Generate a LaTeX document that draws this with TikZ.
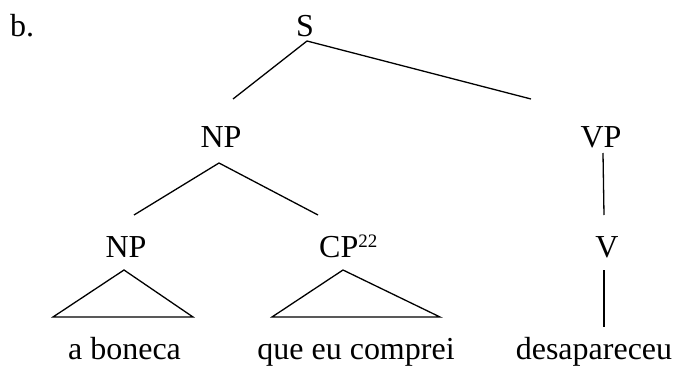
\documentclass[tikz,border=0pt]{standalone}
\usepackage{fontspec}
\setmainfont{Liberation Serif}
\begin{document}
\begin{tikzpicture}[x=1pt,y=-1pt,
  lbl/.style={inner sep=0pt,anchor=base,font=\fontsize{32}{37}\selectfont},
  edge/.style={line width=1.3pt}]
\useasboundingbox (0,0) rectangle (673,372);
% labels
\node[lbl,anchor=base west] (b) at (10,36) {b.};
\node[lbl] (S) at (305,36) {S};
\node[lbl] (NP) at (221,147) {NP};
\node[lbl] (VP) at (601,147) {VP};
\node[lbl] (NPl) at (126,257) {NP};
\node[lbl,anchor=base west] (CP) at (319,257) {CP\raisebox{10pt}{\fontsize{19}{22}\selectfont 22}};
\node[lbl] (V) at (607,257) {V};
\node[lbl] (w1) at (124.5,359) {a boneca};
\node[lbl] (w2) at (356,359) {que eu comprei};
\node[lbl] (w3) at (594,359) {desapareceu};
% connector ends
\coordinate (sS) at (307,41);
\coordinate (tNP) at (233,99);
\coordinate (tVP) at (531,99);
\coordinate (sNP) at (219,163);
\coordinate (tNPl) at (134,215);
\coordinate (tCP) at (318,215);
\coordinate (sVP) at (603,153);
\coordinate (tV) at (604,215);
\coordinate (sV) at (604,270);
\coordinate (tw3) at (604,327);
\coordinate (a1) at (124,270);
\coordinate (l1) at (53,317);
\coordinate (r1) at (193,317);
\coordinate (a2) at (343,270);
\coordinate (l2) at (272,317);
\coordinate (r2) at (440,317);
% edges
\draw[edge] (tNP) -- (sS) -- (tVP);
\draw[edge] (tNPl) -- (sNP) -- (tCP);
\draw[edge] (sVP) -- (tV);
\draw[edge] (sV) -- (tw3);
\draw[edge,line join=miter] (a1) -- (l1) -- (r1) -- cycle;
\draw[edge,line join=miter] (a2) -- (l2) -- (r2) -- cycle;
\end{tikzpicture}
\end{document}
